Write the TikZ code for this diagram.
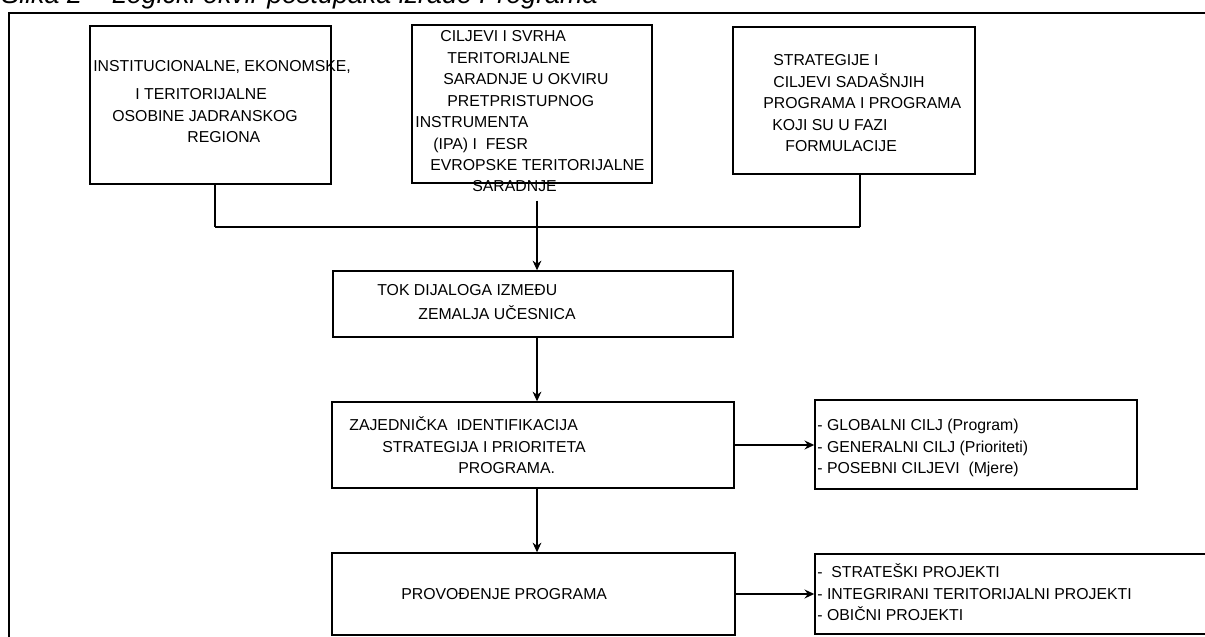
\documentclass[tikz,border=0pt]{standalone}
\usepackage{fontspec}
\setmainfont{Liberation Sans}
\usetikzlibrary{arrows.meta}
\newcommand\diagfont{\fontsize{9}{12.2}\selectfont}

\begin{document}
\begin{tikzpicture}[>={Stealth[length=5.5pt,width=5pt]},
  box/.style={draw, line width=0.8pt, inner sep=0pt},
  txt/.style={anchor=base west, align=left, inner sep=0pt, font=\diagfont},
  link/.style={line width=0.6pt}]
  \useasboundingbox (0,0) rectangle (24.1,-12.74);
  % title, cut by the top edge, and the frame
  \node[anchor=base west, inner sep=0pt, font=\fontsize{15.3}{18}\selectfont\itshape] (title) at (0.02,-0.08) {Slika 2 – Logički okvir postupaka izrade Programa};
  \draw[line width=1.1pt] (24.3,-0.26) -- (0.18,-0.26) -- (0.18,-12.9);

  % boxes
  \node[box, minimum width=4.82cm, minimum height=3.16cm] (inst) at (4.21,-2.10) {};
  \node[box, minimum width=4.80cm, minimum height=3.16cm] (ciljevi) at (10.64,-2.08) {};
  \node[box, minimum width=4.84cm, minimum height=2.94cm] (strat) at (17.08,-2.01) {};
  \node[box, minimum width=8.00cm, minimum height=1.32cm] (tok) at (10.66,-6.08) {};
  \node[box, minimum width=8.04cm, minimum height=1.72cm] (zaj) at (10.66,-8.90) {};
  \node[box, minimum width=6.44cm, minimum height=1.78cm] (glob) at (19.52,-8.89) {};
  \node[box, minimum width=8.06cm, minimum height=1.64cm] (prov) at (10.67,-11.88) {};
  \node[box, minimum width=7.94cm, minimum height=1.60cm] (proj) at (20.27,-11.88) {};

  % texts (base = last line)
  \node[txt] (instTxt) at (1.86,-2.85) {INSTITUCIONALNE, EKONOMSKE,\\[0.13cm]
    \hspace*{0.84cm}I TERITORIJALNE\\
    \hspace*{0.38cm}OSOBINE JADRANSKOG\\
    \hspace*{1.88cm}REGIONA};
  \node[txt] (ciljeviTxt) at (8.30,-3.84) {\hspace*{0.50cm}CILJEVI I SVRHA\\
    \hspace*{0.64cm}TERITORIJALNE\\
    \hspace*{0.56cm}SARADNJE U OKVIRU\\
    \hspace*{0.64cm}PRETPRISTUPNOG\\
    INSTRUMENTA\\
    \hspace*{0.36cm}(IPA) I\ \ FESR\\
    \hspace*{0.30cm}EVROPSKE TERITORIJALNE\\
    \hspace*{1.14cm}SARADNJE};
  \node[txt] (stratTxt) at (15.26,-3.03) {\hspace*{0.20cm}STRATEGIJE I\\
    \hspace*{0.20cm}CILJEVI SADAŠNJIH\\
    PROGRAMA I PROGRAMA\\
    \hspace*{0.18cm}KOJI SU U FAZI\\
    \hspace*{0.44cm}FORMULACIJE};
  \node[txt] (tokTxt) at (7.54,-6.39) {TOK DIJALOGA IZMEĐU\\[0.05cm]
    \hspace*{0.82cm}ZEMALJA UČESNICA};
  \node[txt] (zajTxt) at (6.98,-9.47) {ZAJEDNIČKA\ \ IDENTIFIKACIJA\\
    \hspace*{0.66cm}STRATEGIJA I PRIORITETA\\
    \hspace*{2.18cm}PROGRAMA.};
  \node[txt] (provTxt) at (8.02,-11.99) {PROVOĐENJE PROGRAMA};
  \node[txt] (globTxt) at (16.34,-9.47) {- GLOBALNI CILJ (Program)\\
    - GENERALNI CILJ (Prioriteti)\\
    - POSEBNI CILJEVI\ \ (Mjere)};
  \node[txt] (projTxt) at (16.34,-12.41) {-\ \ STRATEŠKI PROJEKTI\\
    - INTEGRIRANI TERITORIJALNI PROJEKTI\\
    - OBIČNI PROJEKTI};

  % connectors
  \coordinate (join) at (10.74,-4.54);
  \draw[link] ([xshift=0.09cm]inst.south) -- ([xshift=0.09cm]inst.south |- join);
  \draw[link] ([xshift=0.12cm]strat.south) -- ([xshift=0.12cm]strat.south |- join);
  \draw[line width=1.1pt] ([xshift=0.09cm]inst.south |- join) -- ([xshift=0.12cm]strat.south |- join);
  \draw[line width=1pt] ([yshift=-0.16cm]ciljeviTxt.south -| join) -- (join);
  \draw[link, ->] (join) -- (join |- tok.north);
  \draw[link, ->] (join |- tok.south) -- (join |- zaj.north);
  \draw[link, ->] (join |- zaj.south) -- (join |- prov.north);
  \draw[line width=1.1pt, ->] (zaj.east) -- (zaj.east -| glob.west);
  \draw[line width=1.1pt, ->] (prov.east) -- (prov.east -| proj.west);
\end{tikzpicture}
\end{document}
